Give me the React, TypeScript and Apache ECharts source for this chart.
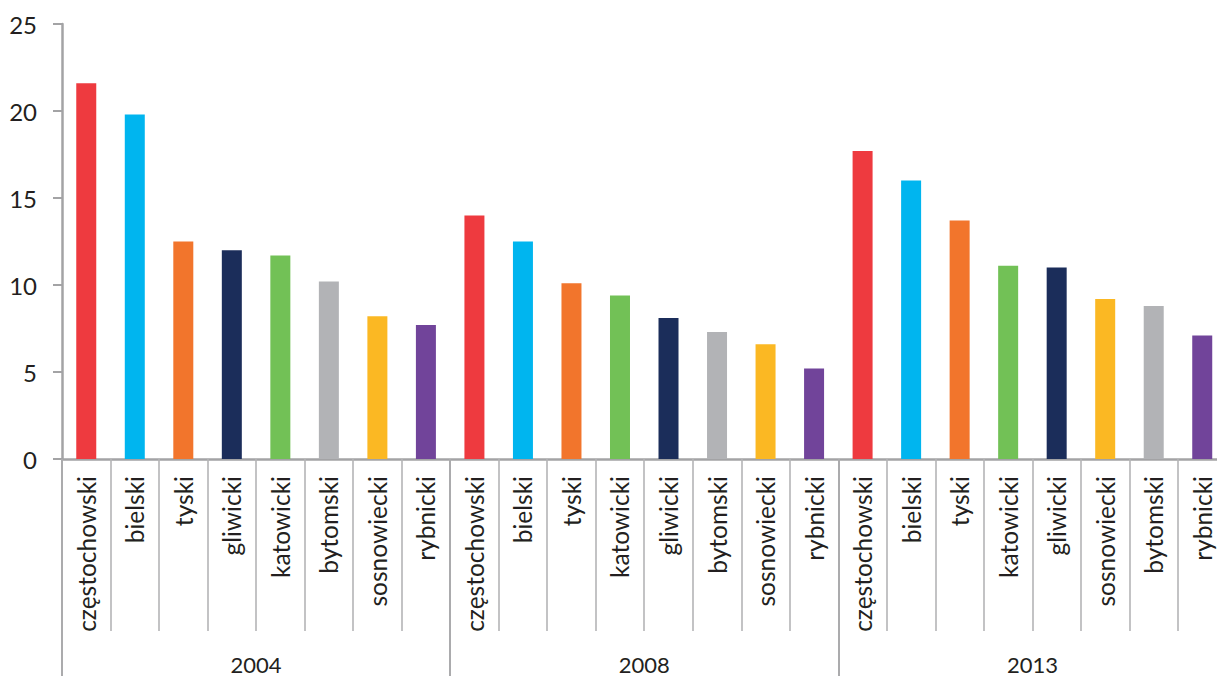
import React, { useEffect, useRef } from "react";
import * as echarts from "echarts";

// Poviats per year, in the order they are plotted, with their values
const years = ["2004", "2008", "2013"];
const poviats2004 = ["częstochowski", "bielski", "tyski", "gliwicki", "katowicki", "bytomski", "sosnowiecki", "rybnicki"];
const values2004 = [21.6, 19.8, 12.5, 12.0, 11.7, 10.2, 8.2, 7.7];
const poviats2008 = ["częstochowski", "bielski", "tyski", "katowicki", "gliwicki", "bytomski", "sosnowiecki", "rybnicki"];
const values2008 = [14.0, 12.5, 10.1, 9.4, 8.1, 7.3, 6.6, 5.2];
const poviats2013 = ["częstochowski", "bielski", "tyski", "katowicki", "gliwicki", "sosnowiecki", "bytomski", "rybnicki"];
const values2013 = [17.7, 16.0, 13.7, 11.1, 11.0, 9.2, 8.8, 7.1];

const poviatColors: Record<string, string> = {
  "częstochowski": "#EE3A3F",
  bielski: "#00B5EF",
  tyski: "#F2752C",
  gliwicki: "#1B2D5A",
  katowicki: "#72C156",
  bytomski: "#B2B3B6",
  sosnowiecki: "#FBB823",
  rybnicki: "#71449A",
};

const FONT = "Lato, 'Open Sans', sans-serif";
const TEXT = "#231F20";
const AXIS = "#A3A3A5";

export default function App() {
  const ref = useRef<HTMLDivElement>(null);

  useEffect(() => {
    if (!ref.current) return;
    const chart = echarts.init(ref.current, undefined, { renderer: "svg" });

    const categories = [...poviats2004, ...poviats2008, ...poviats2013];
    const values = [...values2004, ...values2008, ...values2013];
    const barData = values.map((v, i) => ({
      value: v,
      itemStyle: { color: poviatColors[categories[i]] },
    }));

    chart.setOption({
      animation: false,
      backgroundColor: "#ffffff",
      grid: {
        left: 62,
        right: -9.5,
        top: 24,
        bottom: 217,
        containLabel: false,
        outerBoundsMode: "none",
      },
      xAxis: [
        {
          type: "category",
          position: "bottom",
          data: categories,
          boundaryGap: true,
          axisLine: { show: true, lineStyle: { color: AXIS, width: 2.5 } },
          axisTick: {
            show: true,
            interval: 0,
            alignWithLabel: false,
            length: 172,
            lineStyle: { color: "#B4B4B6", width: 1.6 },
          },
          axisLabel: {
            interval: 0,
            rotate: 90,
            margin: 17,
            fontFamily: FONT,
            fontSize: 24.5,
            color: TEXT,
          },
          splitLine: { show: false },
        },
        {
          type: "category",
          position: "bottom",
          data: years,
          boundaryGap: true,
          axisLine: { show: false },
          axisTick: {
            show: true,
            interval: 0,
            alignWithLabel: false,
            length: 222,
            lineStyle: { color: "#ABABAD", width: 2 },
          },
          axisLabel: {
            interval: 0,
            margin: 194,
            fontFamily: FONT,
            fontSize: 22,
            color: TEXT,
          },
          splitLine: { show: false },
        },
      ],
      yAxis: {
        type: "value",
        min: 0,
        max: 25,
        interval: 5,
        axisLine: { show: true, lineStyle: { color: AXIS, width: 2.5 } },
        axisTick: { show: true, length: 9, lineStyle: { color: AXIS, width: 2 } },
        axisLabel: {
          margin: 25,
          fontFamily: FONT,
          fontSize: 24,
          color: TEXT,
        },
        splitLine: { show: false },
      },
      series: [
        {
          type: "bar",
          xAxisIndex: 0,
          yAxisIndex: 0,
          barWidth: 20,
          data: barData,
        },
      ],
    });

    return () => chart.dispose();
  }, []);

  return (
    <div
      ref={ref}
      style={{ position: "fixed", left: 0, top: 0, width: 1217, height: 676 }}
    />
  );
}
